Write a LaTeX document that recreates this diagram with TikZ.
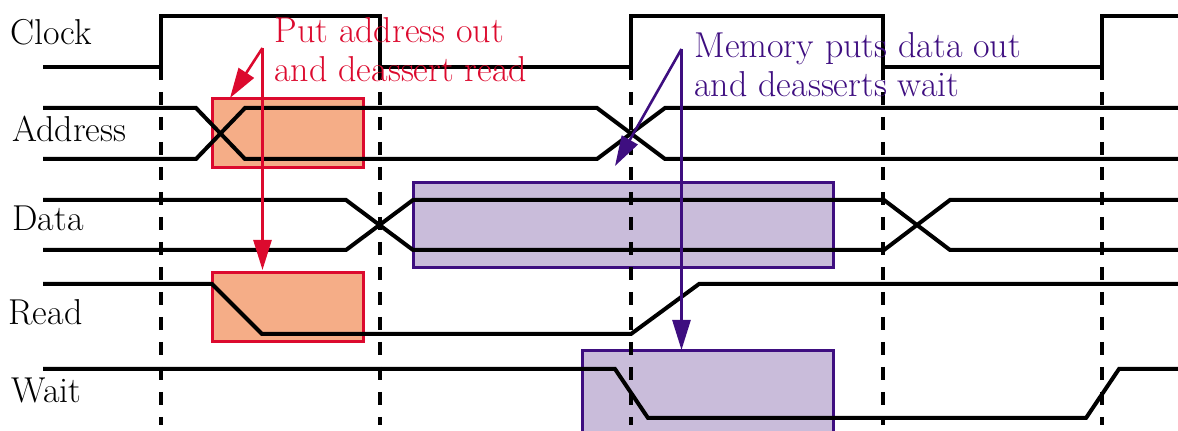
\documentclass[tikz,border=0pt]{standalone}
\usetikzlibrary{arrows.meta}
\definecolor{annred}{HTML}{DC0A2E}
\definecolor{annorange}{HTML}{F5AD87}
\definecolor{annpurple}{HTML}{3E0E80}
\definecolor{annlilac}{HTML}{C9BCDA}
\tikzset{
  signal/.style={line width=2pt, line join=miter},
  clockedge/.style={line width=1.9pt, dash pattern=on 6.5pt off 6pt},
  redbox/.style={draw=annred, fill=annorange, line width=1.5pt},
  purplebox/.style={draw=annpurple, fill=annlilac, line width=1.5pt},
  redarrow/.style={draw=annred, line width=1.3pt, -{Triangle[length=15pt,width=9pt]}},
  purplearrow/.style={draw=annpurple, line width=1.3pt, -{Triangle[length=15pt,width=9pt]}},
  lbl/.style={anchor=base west, inner sep=0pt, font=\fontsize{18}{20}\selectfont},
}
\begin{document}
\begin{tikzpicture}[x=0.5pt, y=-0.5pt]
\useasboundingbox (0,0) rectangle (1178,431);
\begin{scope}
\clip (0,0) rectangle (1178,431);

% highlighted regions
\path[redbox] (212,99) rectangle (363,168);
\path[redbox] (212,273) rectangle (363,342);
\path[purplebox] (413,183) rectangle (833,268);
\path[purplebox] (582,351) rectangle (833,445);

% clock edges (dashed guides)
\foreach \x in {161,380,631,883,1102}
  \draw[clockedge] (\x,67) -- (\x,425);

% clock
\draw[signal] (43,67) -- (161,67) -- (161,16) -- (380,16) -- (380,67) -- (631,67)
  -- (631,16) -- (883,16) -- (883,67) -- (1102,67) -- (1102,16) -- (1180,16);

% address bus
\draw[signal] (43,108) -- (196,108) -- (245,159) -- (597,159) -- (665,108) -- (1180,108);
\draw[signal] (43,159) -- (196,159) -- (245,108) -- (597,108) -- (665,159) -- (1180,159);

% data bus
\draw[signal] (43,200) -- (346,200) -- (413,250) -- (884,250) -- (950,200) -- (1180,200);
\draw[signal] (43,250) -- (346,250) -- (413,200) -- (884,200) -- (950,250) -- (1180,250);

% read
\draw[signal] (43,284) -- (212,284) -- (262,334) -- (631,334) -- (699,284) -- (1180,284);

% wait
\draw[signal] (43,369) -- (615,369) -- (648,418) -- (1086,418) -- (1119,369) -- (1180,369);
\end{scope}

% signal names
\node[lbl] (clk)  at (10,45)  {Clock};
\node[lbl] (addr) at (12,142) {Address};
\node[lbl] (data) at (12,231) {Data};
\node[lbl] (rd)   at (8,325)  {Read};
\node[lbl] (wt)   at (11,403) {Wait};

% annotations
\node[lbl, text=annred] (redA) at (274,43) {Put address out};
\node[lbl, text=annred] (redB) at (274,82) {and deassert read};
\node[lbl, text=annpurple] (purA) at (694,58) {Memory puts data out};
\node[lbl, text=annpurple] (purB) at (694,97) {and deasserts wait};

\coordinate (redfork) at (262.5,48);
\coordinate (addrtip) at (230,98);
\coordinate (readtip) at (262.5,270);
\coordinate (purfork) at (681.5,49);
\coordinate (datatip) at (615,166);
\coordinate (waittip) at (681.5,350);

\draw[redarrow] (redfork) -- (addrtip);
\draw[redarrow] (redfork) -- (readtip);
\draw[purplearrow] (purfork) -- (datatip);
\draw[purplearrow] (purfork) -- (waittip);
\end{tikzpicture}
\end{document}
